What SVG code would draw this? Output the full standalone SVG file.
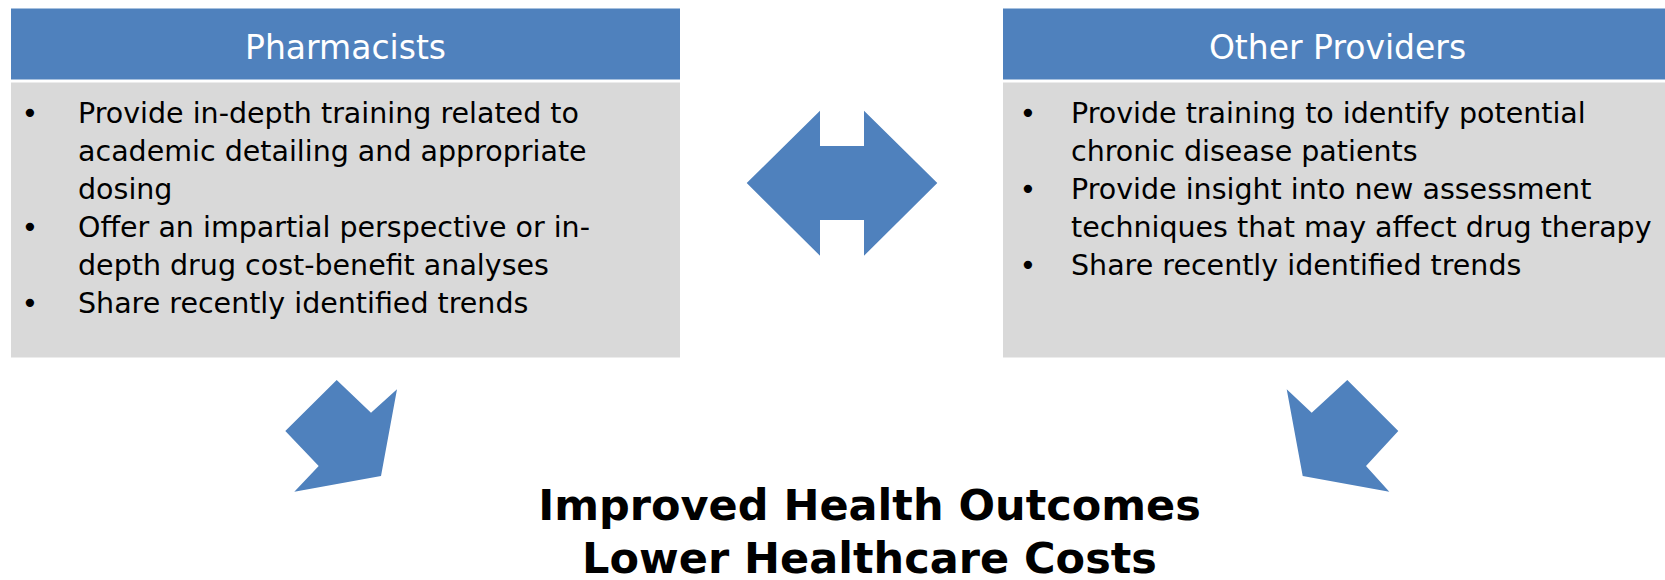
<svg xmlns="http://www.w3.org/2000/svg" width="1665" height="580" viewBox="0 0 1665 580">
<style>
.hdr{fill:#4F81BD}
.body{fill:#D9D9D9}
.ttl{font-family:"DejaVu Sans",Verdana,sans-serif;font-size:33px;fill:#FFFFFF;text-anchor:middle}
.txt{font-family:"DejaVu Sans",Verdana,sans-serif;font-size:28.5px;fill:#000000}
.bul{font-family:"DejaVu Sans",Verdana,sans-serif;font-size:28.5px;fill:#000000;text-anchor:middle}
.arw{fill:#4F81BD}
.out{font-family:"DejaVu Sans",Verdana,sans-serif;font-size:43px;font-weight:bold;fill:#000000;text-anchor:middle}
</style>
<rect width="1665" height="580" fill="#FFFFFF"/>
<g id="pharmacists">
<rect class="hdr" x="11" y="8.5" width="669" height="71"/>
<rect class="body" x="11" y="82.5" width="669" height="275"/>
<text class="ttl" x="345.5" y="59">Pharmacists</text>
<text class="bul" x="30" y="123">•</text>
<text class="txt" x="78" y="123">Provide in-depth training related to</text>
<text class="txt" x="78" y="161">academic detailing and appropriate</text>
<text class="txt" x="78" y="199">dosing</text>
<text class="bul" x="30" y="237">•</text>
<text class="txt" x="78" y="237">Offer an impartial perspective or in-</text>
<text class="txt" x="78" y="275">depth drug cost-benefit analyses</text>
<text class="bul" x="30" y="313">•</text>
<text class="txt" x="78" y="313">Share recently identified trends</text>
</g>
<g id="other-providers">
<rect class="hdr" x="1003" y="8.5" width="669" height="71"/>
<rect class="body" x="1003" y="82.5" width="669" height="275"/>
<text class="ttl" x="1337.5" y="59">Other Providers</text>
<text class="bul" x="1028" y="123">•</text>
<text class="txt" x="1071" y="123">Provide training to identify potential</text>
<text class="txt" x="1071" y="161">chronic disease patients</text>
<text class="bul" x="1028" y="199">•</text>
<text class="txt" x="1071" y="199">Provide insight into new assessment</text>
<text class="txt" x="1071" y="237">techniques that may affect drug therapy</text>
<text class="bul" x="1028" y="275">•</text>
<text class="txt" x="1071" y="275">Share recently identified trends</text>
</g>
<g id="outcome">
<text class="out" x="869.5" y="520">Improved Health Outcomes</text>
<text class="out" x="869.5" y="573">Lower Healthcare Costs</text>
</g>
<g id="connectors">
<polygon class="arw" points="746.7,183 820,110.7 820,146 864,146 864,110.7 937.3,183 864,255.7 864,220 820,220 820,255.7"/>
<polygon class="arw" points="336.7,380 371,412.7 397,389.3 381,476 294.3,491.7 318.7,466 285.3,431"/>
<polygon class="arw" points="1347.3,380 1398.3,431 1366,466 1389.3,491.7 1302.7,476 1286.7,389.3 1311.7,412.7"/>
</g>
</svg>
